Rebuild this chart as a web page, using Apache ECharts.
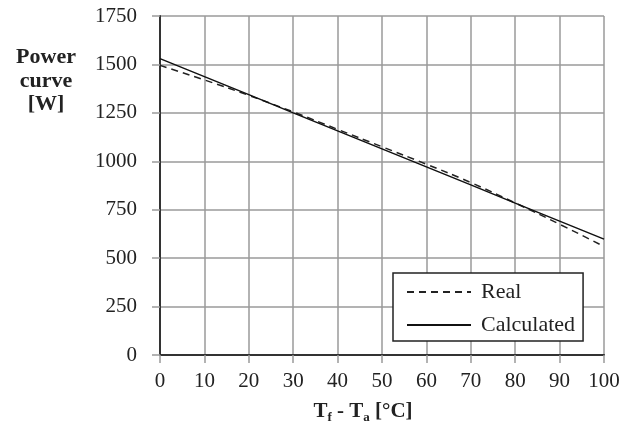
<!DOCTYPE html>
<html>
<head>
<meta charset="utf-8">
<script src="https://cdn.jsdelivr.net/npm/echarts@6/dist/echarts.min.js"></script>
<style>
  html, body { margin: 0; padding: 0; background: #fff; }
  #chart { width: 636px; height: 443px; }
</style>
</head>
<body>
<div id="chart"></div>
<script>
// temperature difference Tf - Ta
var tempDiff = [0, 10, 20, 30, 40, 50, 60, 70, 80, 90, 100];
// measured power (dashed)
var realPower = [1495, 1420, 1340, 1255, 1165, 1075, 985, 890, 785, 675, 560];
// model power (solid)
var calcPower = [1530, 1437, 1344, 1250, 1157, 1064, 971, 878, 784, 691, 598];

var serif = '"Liberation Serif", "DejaVu Serif", serif';
var gridGray = '#9a9a9a';

var chart = echarts.init(document.getElementById('chart'));

function pairs(ys) {
  return tempDiff.map(function (x, i) { return [x, ys[i]]; });
}

var option = {
  animation: false,
  backgroundColor: '#fff',
  grid: { left: 160, right: 32, top: 16, bottom: 88 },
  title: {
    text: 'Power\ncurve\n[W]',
    left: 41,
    top: 41,
    textAlign: 'center',
    textStyle: { fontFamily: serif, fontWeight: 'bold', fontSize: 22, lineHeight: 23.5, color: '#222' }
  },
  legend: {
    orient: 'vertical',
    left: 393,
    top: 273,
    padding: [8, 8, 5, 13],
    itemWidth: 64,
    itemHeight: 20,
    itemGap: 11,
    itemStyle: { opacity: 0 },
    backgroundColor: '#fff',
    borderColor: '#222',
    borderWidth: 1.5,
    textStyle: { fontFamily: serif, fontSize: 22, color: '#222', padding: [0, 0, 0, 5] },
    data: ['Real', 'Calculated']
  },
  xAxis: [{
    type: 'value',
    min: 0, max: 100, interval: 10,
    name: 'T{s|f} - T{s|a} [°C]',
    nameLocation: 'middle',
    nameGap: 45,
    nameTextStyle: {
      fontFamily: serif, fontWeight: 'bold', fontSize: 21, color: '#222',
      padding: [0, 38, 0, 0],
      rich: { s: { fontFamily: serif, fontWeight: 'bold', fontSize: 13, color: '#222', verticalAlign: 'bottom', padding: [11, 0, 0, 0] } }
    },
    axisLine: { lineStyle: { color: gridGray, width: 1.5 } },
    axisTick: { show: true, length: 8, lineStyle: { color: gridGray, width: 1.5 } },
    axisLabel: { margin: 16, fontFamily: serif, fontSize: 21, color: '#222' },
    splitLine: { lineStyle: { color: gridGray, width: 1.5 } }
  }, {
    type: 'value', position: 'top', min: 0, max: 100,
    axisLine: { show: true, lineStyle: { color: '#333', width: 2 } },
    axisTick: { show: false }, axisLabel: { show: false }, splitLine: { show: false }
  }],
  yAxis: [{
    type: 'value',
    min: 0, max: 1750, interval: 250,
    axisLine: { show: true, lineStyle: { color: gridGray, width: 1.5 } },
    axisTick: { show: true, length: 8, lineStyle: { color: gridGray, width: 1.5 } },
    axisLabel: {
      margin: 23, fontFamily: serif, fontSize: 21, color: '#222',
      formatter: function (v) { return String(v); }
    },
    splitLine: { lineStyle: { color: gridGray, width: 1.5 } }
  }, {
    type: 'value', position: 'right', min: 0, max: 1750,
    axisLine: { show: true, lineStyle: { color: '#333', width: 2 } },
    axisTick: { show: false }, axisLabel: { show: false }, splitLine: { show: false }
  }],
  series: [{
    name: 'Real',
    type: 'line',
    symbol: 'none',
    smooth: true,
    data: pairs(realPower),
    lineStyle: { color: '#222', width: 1.5, type: [7, 5] },
    itemStyle: { color: '#222' },
    z: 3
  }, {
    name: 'Calculated',
    type: 'line',
    symbol: 'none',
    data: pairs(calcPower),
    lineStyle: { color: '#111', width: 1.5 },
    itemStyle: { color: '#111' },
    z: 4
  }]
};

chart.setOption(option);
</script>
</body>
</html>
